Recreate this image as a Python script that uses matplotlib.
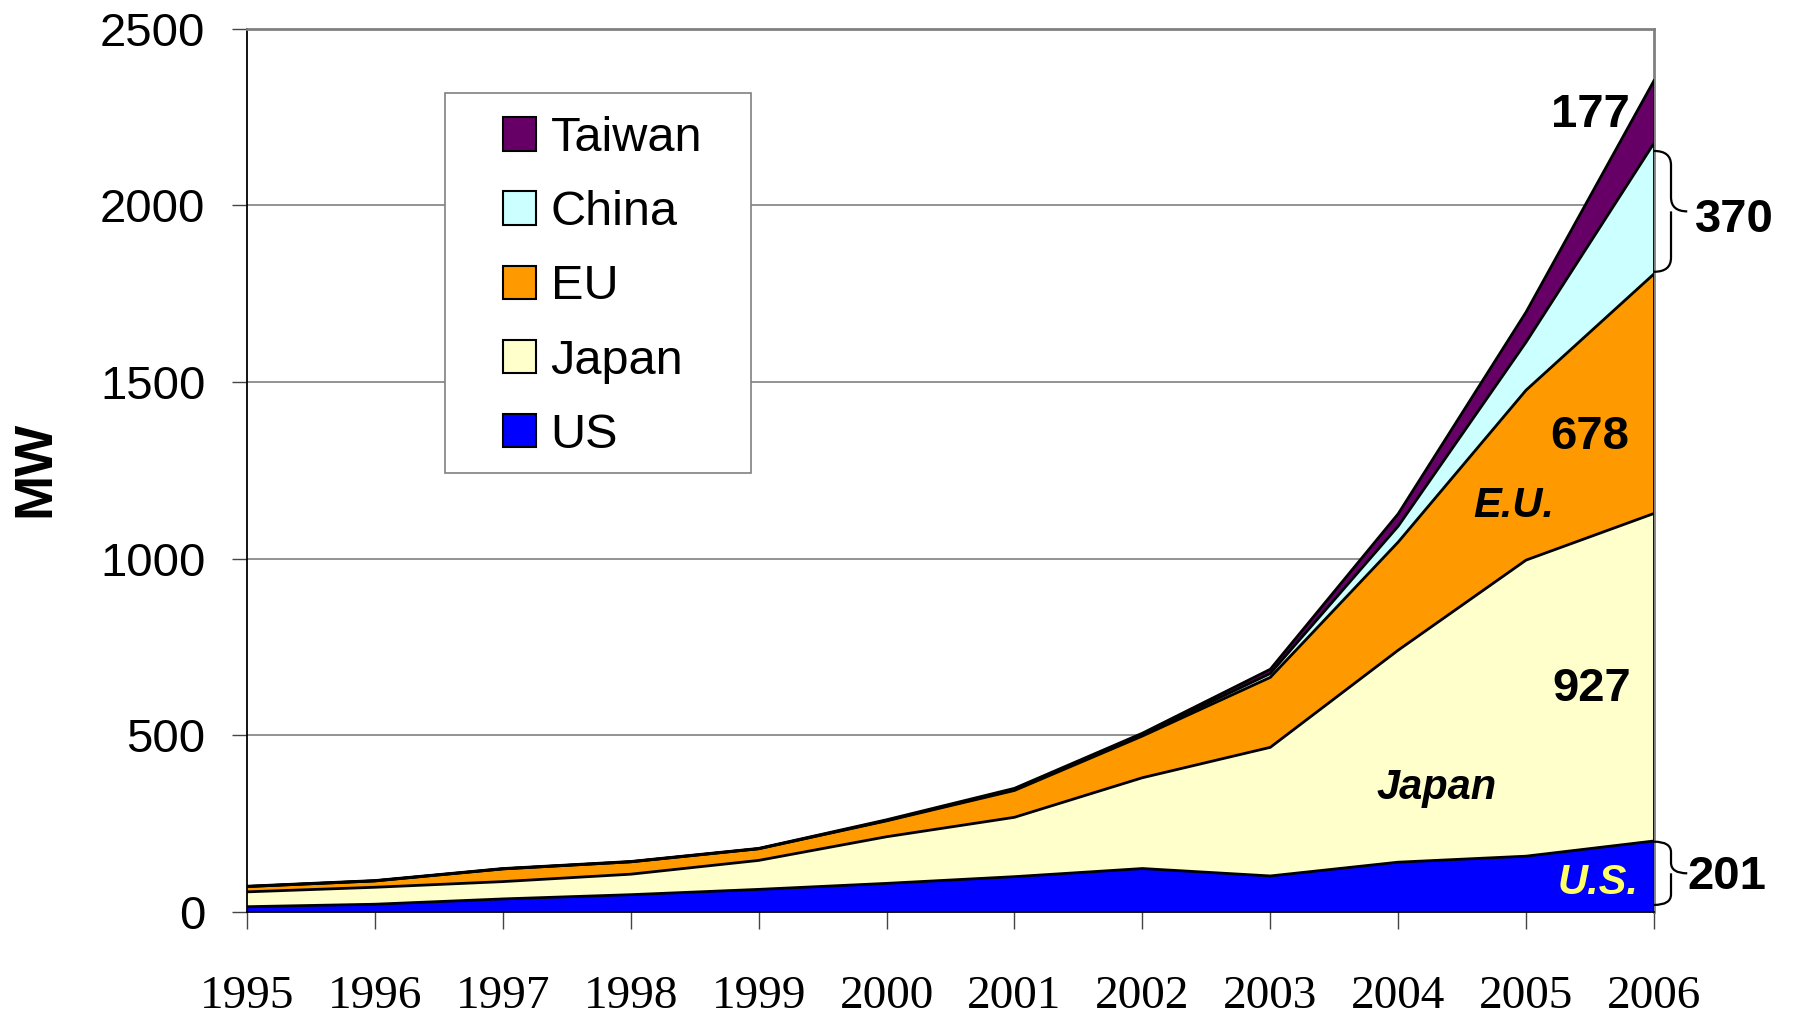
import matplotlib
matplotlib.use("Agg")
import matplotlib.pyplot as plt
from matplotlib.path import Path
from matplotlib.patches import PathPatch, Patch, Rectangle
import numpy as np

years = [1995, 1996, 1997, 1998, 1999, 2000, 2001, 2002, 2003, 2004, 2005, 2006]
us = [15, 22, 37, 49, 64, 81, 100, 123, 102, 141, 158, 201]
japan = [42, 48, 49, 58, 82, 132, 168, 257, 364, 600, 838, 927]
eu = [15, 18, 36, 35, 33, 45, 76, 118, 198, 306, 481, 678]
china = [0, 0, 0, 0, 0, 1, 3, 4, 11, 45, 136, 370]
taiwan = [1, 1, 1, 1, 1, 2, 3, 4, 12, 35, 85, 177]

series_names = ["US", "Japan", "EU", "China", "Taiwan"]
series_colors = ["#0000FF", "#FFFFCC", "#FF9900", "#CCFFFF", "#660066"]
yticks = [0, 500, 1000, 1500, 2000, 2500]

plt.rcParams['font.family'] = ['Liberation Sans', 'DejaVu Sans']

W, H = 1797, 1015
fig = plt.figure(figsize=(W / 100, H / 100), dpi=100)
ax = fig.add_axes([247 / W, 1 - 912 / H, (1654 - 247) / W, (912 - 28.7) / H])

data = [us, japan, eu, china, taiwan]
base = np.zeros(len(years))
for vals, col in zip(data, series_colors):
    top = base + np.array(vals, dtype=float)
    ax.fill_between(years, base, top, facecolor=col, edgecolor='none', zorder=2)
    base = top
# outlines
base = np.zeros(len(years))
for vals in data:
    top = base + np.array(vals, dtype=float)
    ax.plot(years, top, color='black', lw=2.0, zorder=3, solid_joinstyle='miter')
    base = top
ax.plot([years[-1], years[-1]], [0, base[-1]], color='black', lw=2.0, zorder=3)

ax.set_xlim(1995, 2006)
ax.set_ylim(0, 2500)
ax.set_yticks(yticks)
ax.set_yticklabels([str(v) for v in yticks], fontsize=34)
ax.set_xticks(years)
ax.set_xticklabels([str(y) for y in years], fontsize=34, family=['Liberation Serif', 'DejaVu Serif'])
ax.tick_params(axis='y', direction='out', length=11, width=1, pad=19, color='#444444')
ax.tick_params(axis='x', direction='out', length=12, width=1, pad=34, color='#444444')

for y in yticks[1:-1]:
    ax.axhline(y, color='#808080', lw=1.2, zorder=1)

ax.spines['left'].set_color('black')
ax.spines['left'].set_linewidth(1.3)
ax.spines['bottom'].set_color('black')
ax.spines['bottom'].set_linewidth(1.3)
ax.spines['top'].set_color('#808080')
ax.spines['top'].set_linewidth(2)
ax.spines['right'].set_color('#808080')
ax.spines['right'].set_linewidth(2)

fig.text(35 / W, 1 - 469 / H, "MW", fontsize=39, fontweight='bold', rotation=90,
         ha='center', va='center')

# legend frame
fig.patches.append(Rectangle((445 / W, 1 - 473 / H), (751 - 445) / W, (473 - 92.7) / H,
                             transform=fig.transFigure, facecolor='white',
                             edgecolor='#808080', lw=1.2, zorder=4))
handles = [Patch(facecolor=c, edgecolor='black', lw=1.5, label=n)
           for n, c in zip(series_names[::-1], series_colors[::-1])]
leg = fig.legend(handles=handles, loc='upper left',
                 bbox_to_anchor=(503 / W, 1 - 116 / H),
                 fontsize=35, frameon=False,
                 handlelength=0.68, handleheight=0.68, handletextpad=0.3,
                 labelspacing=0.6, borderpad=0, borderaxespad=0)
leg.set_zorder(5)

# annotations
ax.text(2005.5, 2255, "177", fontsize=34, fontweight='bold', ha='center', va='center', zorder=6)
ax.text(2005.5, 1344, "678", fontsize=34, fontweight='bold', ha='center', va='center', zorder=6)
ax.text(2005.51, 630, "927", fontsize=34, fontweight='bold', ha='center', va='center', zorder=6)
ax.text(2004.9, 1149, "E.U.", fontsize=30, fontweight='bold', style='italic', ha='center', va='center', zorder=6)
ax.text(2004.3, 351, "Japan", fontsize=30, fontweight='bold', style='italic', ha='center', va='center', zorder=6)
ax.text(2005.56, 83, "U.S.", fontsize=30, fontweight='bold', style='italic', color='#FFFF66', ha='center', va='center', zorder=6)
ax.text(2006.63, 1958, "370", fontsize=34, fontweight='bold', ha='center', va='center', zorder=6, clip_on=False)
ax.text(2006.57, 100, "201", fontsize=34, fontweight='bold', ha='center', va='center', zorder=6, clip_on=False)


def brace(ax, x0, y_top, y_bot, a=0.133, b=0.26, r=None):
    ym = (y_top + y_bot) / 2
    if r is None:
        r = min(40, (y_top - y_bot) / 6)
    xa = x0 + a
    xb = x0 + b
    verts = [(x0, y_top), (xa, y_top), (xa, y_top - r),
             (xa, ym + r),
             (xa, ym), (xb, ym),
             (xa, ym), (xa, ym - r),
             (xa, y_bot + r),
             (xa, y_bot), (x0, y_bot)]
    codes = [Path.MOVETO, Path.CURVE3, Path.CURVE3,
             Path.LINETO,
             Path.CURVE3, Path.CURVE3,
             Path.MOVETO, Path.CURVE3,
             Path.LINETO,
             Path.CURVE3, Path.CURVE3]
    p = PathPatch(Path(verts, codes), facecolor='none', edgecolor='black', lw=1.6,
                  clip_on=False, zorder=6)
    ax.add_patch(p)


brace(ax, 2006.0, 2154, 1812, r=40)
brace(ax, 2006.0, 199, 20, r=30)

fig.savefig("out.png", dpi=100)
